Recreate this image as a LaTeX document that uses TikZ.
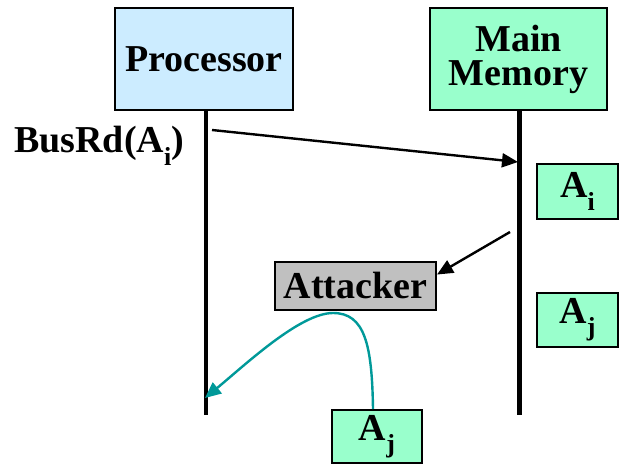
\documentclass[tikz,border=0pt]{standalone}
\usepackage{fontspec}
\setmainfont{Liberation Serif}
\usetikzlibrary{arrows.meta,calc}
\definecolor{procfill}{HTML}{CCECFF}
\definecolor{memfill}{HTML}{99FFCC}
\definecolor{attfill}{HTML}{C0C0C0}
\definecolor{teal}{HTML}{009999}
\newcommand{\lowsub}[1]{\raisebox{-0.32em}{\fontsize{26}{26}\selectfont #1}}
\begin{document}
\begin{tikzpicture}[x=1pt,y=-1pt,
  box/.style={draw=black,line width=2pt,inner sep=0pt,
    font=\fontsize{38}{34}\selectfont\bfseries,align=center},
  lifeline/.style={line width=4.5pt,black},
  msg/.style={line width=2.4pt,black,-{Triangle[length=16pt,width=14pt]}},
  leak/.style={line width=2.4pt,teal,-{Triangle[length=16pt,width=14pt]}}]
\useasboundingbox (0,0) rectangle (620,465);
% participants
\node[box,fill=procfill,minimum width=178pt,minimum height=102pt] (proc) at (204,59) {Processor};
\node[box,fill=memfill,minimum width=177pt,minimum height=102pt] (mem) at (518.5,59) {Main\\Memory};
% lifelines
\coordinate (pend) at (206,415);
\coordinate (mend) at (519.5,415);
\draw[lifeline] (proc.south -| pend) -- (pend);
\draw[lifeline] (mem.south -| mend) -- (mend);
% memory contents
\node[box,fill=memfill,minimum width=81pt,minimum height=55pt] (ai) at (577.5,191.5) {A\lowsub{i}};
\node[box,fill=memfill,minimum width=81pt,minimum height=54pt] (aj) at (577.5,320) {A\lowsub{j}};
% attacker and forged data
\node[box,fill=attfill,minimum width=161pt,minimum height=48pt] (att) at (355.5,286) {Attacker};
\node[box,fill=memfill,minimum width=90pt,minimum height=53pt] (ajb) at (377,436.5) {A\lowsub{j}};
% bus request label
\node[font=\fontsize{38}{34}\selectfont\bfseries,anchor=base west,inner sep=0pt] (busrd) at (14,153) {BusRd(A\lowsub{i})};
% messages
\coordinate (rq0) at (212,130);
\coordinate (rq1) at (518,162);
\draw[msg] (rq0) -- (rq1);
\coordinate (sn0) at (510,232);
\draw[msg] (sn0) -- (att.8);
\coordinate (peak) at (333,313);
\coordinate (hit) at (205,398);
\draw[leak] ($(ajb.north)+(-4,0)$) .. controls (372,345) and (365,313) .. (peak)
  .. controls (300,313) and (245,365) .. (hit);
\end{tikzpicture}
\end{document}
